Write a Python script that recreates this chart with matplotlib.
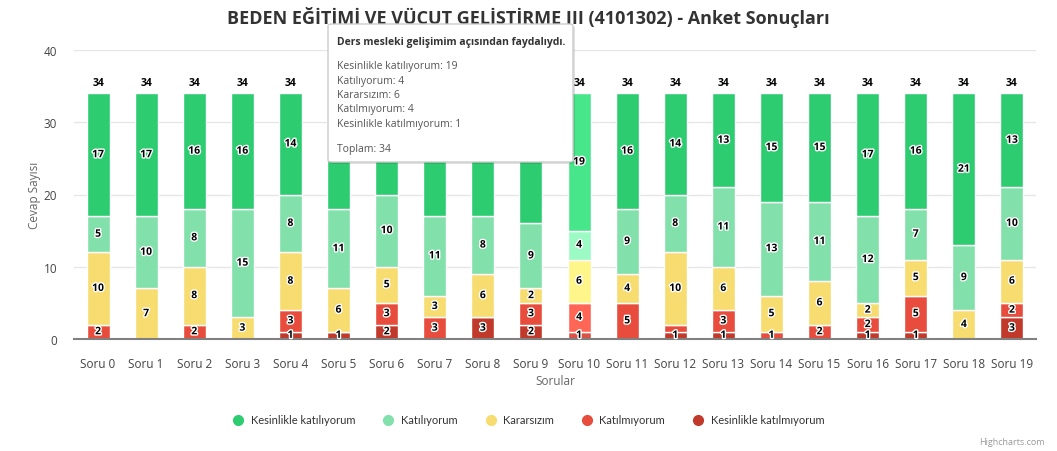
import numpy as np
import matplotlib.pyplot as plt
import matplotlib.patheffects as pe
from matplotlib.patches import FancyBboxPatch
from matplotlib.lines import Line2D

plt.rcParams['font.family'] = ['Open Sans', 'DejaVu Sans']

# Data
sorular = ['Soru %d' % i for i in range(20)]
seriler = ['Kesinlikle katılıyorum', 'Katılıyorum', 'Kararsızım', 'Katılmıyorum', 'Kesinlikle katılmıyorum']
kesinlikle_katiliyorum = [17, 17, 16, 16, 14, 16, 14, 17, 17, 18, 19, 16, 14, 13, 15, 15, 17, 16, 21, 13]
katiliyorum = [5, 10, 8, 15, 8, 11, 10, 11, 8, 9, 4, 9, 8, 11, 13, 11, 12, 7, 9, 10]
kararsizim = [10, 7, 8, 3, 8, 6, 5, 3, 6, 2, 6, 4, 10, 6, 5, 6, 2, 5, 4, 6]
katilmiyorum = [2, 0, 2, 0, 3, 0, 3, 3, 0, 3, 4, 5, 1, 3, 1, 2, 2, 5, 0, 2]
kesinlikle_katilmiyorum = [0, 0, 0, 0, 1, 1, 2, 0, 3, 2, 1, 0, 1, 1, 0, 0, 1, 1, 0, 3]
renkler = ['#2ecc71', '#82e0aa', '#f7dc6f', '#e74c3c', '#c0392b']
hover_renkler = ['#48e68b', '#9cfac4', '#fff689', '#ff6656', '#da5345']
secili = 10
soru_metni = 'Ders mesleki gelişimim açısından faydalıydı.'

degerler = [kesinlikle_katiliyorum, katiliyorum, kararsizim, katilmiyorum, kesinlikle_katilmiyorum]

W, H = 1057.0, 452.0
fig = plt.figure(figsize=(W / 100, H / 100), dpi=100)
ax = fig.add_axes([74 / W, (H - 340) / H, (1036 - 74) / W, (340 - 51) / H])
ax.set_xlim(-0.5, len(sorular) - 0.5)
ax.set_ylim(0, 40)

# tooltip box (pixels from top-left)
tx0, tx1, ty0, ty1 = 328, 573, 25, 163


def gizli(xd, yd):
    # label lies under the tooltip -> not visible in the chart
    px, py = ax.transData.transform((xd, yd))
    py = H - py
    return tx0 <= px <= tx1 and ty0 - 6 <= py <= ty1 + 6


x = np.arange(len(sorular))
alt = np.zeros(len(sorular))
son_etiket = np.full(len(sorular), -10.0)
# stack from bottom: strongly disagree first
for k in range(4, -1, -1):
    v = np.array(degerler[k], dtype=float)
    cols = [hover_renkler[k] if i == secili else renkler[k] for i in range(len(x))]
    ax.bar(x, v, bottom=alt, width=0.48, color=cols, edgecolor='white', linewidth=1, zorder=2)
    for i in range(len(x)):
        yc = alt[i] + v[i] / 2
        if v[i] > 0 and not gizli(x[i], yc) and yc - son_etiket[i] >= 1.3:
            ax.text(x[i], yc, '%d' % v[i], ha='center', va='center',
                    fontsize=7.5, fontweight='bold', color='black', zorder=4,
                    path_effects=[pe.withStroke(linewidth=2, foreground='white')])
            son_etiket[i] = yc
    alt += v

for i in range(len(x)):
    if gizli(x[i], alt[i] + 1.6):
        continue
    ax.annotate('%d' % alt[i], (x[i], alt[i]), xytext=(0, 4), textcoords='offset points',
                ha='center', va='bottom', fontsize=7.5, fontweight='bold', color='black', zorder=4)

ax.set_yticks([0, 10, 20, 30, 40])
ax.set_xticks(x)
ax.set_xticklabels(sorular)
ax.tick_params(axis='both', length=0, labelsize=8.5, labelcolor='#444444')
ax.tick_params(axis='x', pad=13)
ax.tick_params(axis='y', pad=12)
ax.grid(axis='y', color='#e6e6e6', linewidth=1, zorder=0)
ax.set_axisbelow(True)
for s in ['top', 'right', 'left']:
    ax.spines[s].set_visible(False)
ax.spines['bottom'].set_color('#808080')
ax.spines['bottom'].set_linewidth(1.5)
ax.spines['bottom'].set_zorder(3)
ax.set_xlabel('Sorular', fontsize=8.5, color='#666666', labelpad=3)
ax.set_ylabel('Cevap Sayısı', fontsize=8.5, color='#666666', labelpad=2)

fig.text(0.5, 1 - 17 / H, 'BEDEN EĞİTİMİ VE VÜCUT GELİŞTİRME III (4101302) - Anket Sonuçları',
         ha='center', va='center', fontsize=13, fontweight='bold', color='#333333')

handles = [Line2D([0], [0], marker='o', linestyle='', markersize=7, markerfacecolor=renkler[k],
                  markeredgecolor=renkler[k]) for k in range(5)]
fig.legend(handles, seriler, loc='center', bbox_to_anchor=(0.5, 1 - 421 / H), ncol=5,
           frameon=False, handlelength=1.0, handletextpad=0.6, columnspacing=2.5,
           labelcolor='#333333', prop={'family': ['Lato', 'DejaVu Sans'], 'size': 8})

fig.text(1 - 12 / W, 1 - 443 / H, 'Highcharts.com', ha='right', va='center', fontsize=6.5, color='#999999')

# tooltip for the hovered question
golge = FancyBboxPatch((tx0 / W + 2 / W, 1 - ty1 / H - 2 / H), (tx1 - tx0) / W, (ty1 - ty0) / H,
                       boxstyle='round,pad=0,rounding_size=0.004', transform=fig.transFigure,
                       facecolor='#000000', alpha=0.12, edgecolor='none', zorder=10)
kutu = FancyBboxPatch((tx0 / W, 1 - ty1 / H), (tx1 - tx0) / W, (ty1 - ty0) / H,
                      boxstyle='round,pad=0,rounding_size=0.004', transform=fig.transFigure,
                      facecolor='white', edgecolor='#cccccc', linewidth=1, zorder=11)
fig.add_artist(golge)
fig.add_artist(kutu)
fig.text((tx0 + 9) / W, 1 - 42 / H, soru_metni, ha='left', va='center', fontsize=7.5,
         fontweight='bold', color='#333333', zorder=12)
satirlar = ['%s: %d' % (seriler[k], degerler[k][secili]) for k in range(5)]
for j, s in enumerate(satirlar):
    fig.text((tx0 + 9) / W, 1 - (67 + j * 14.3) / H, s, ha='left', va='center', fontsize=7.5,
             color='#555555', zorder=12)
fig.text((tx0 + 9) / W, 1 - 150 / H, 'Toplam: %d' % alt[secili], ha='left', va='center',
         fontsize=7.5, color='#555555', zorder=12)

fig.savefig('out.png', dpi=100)
